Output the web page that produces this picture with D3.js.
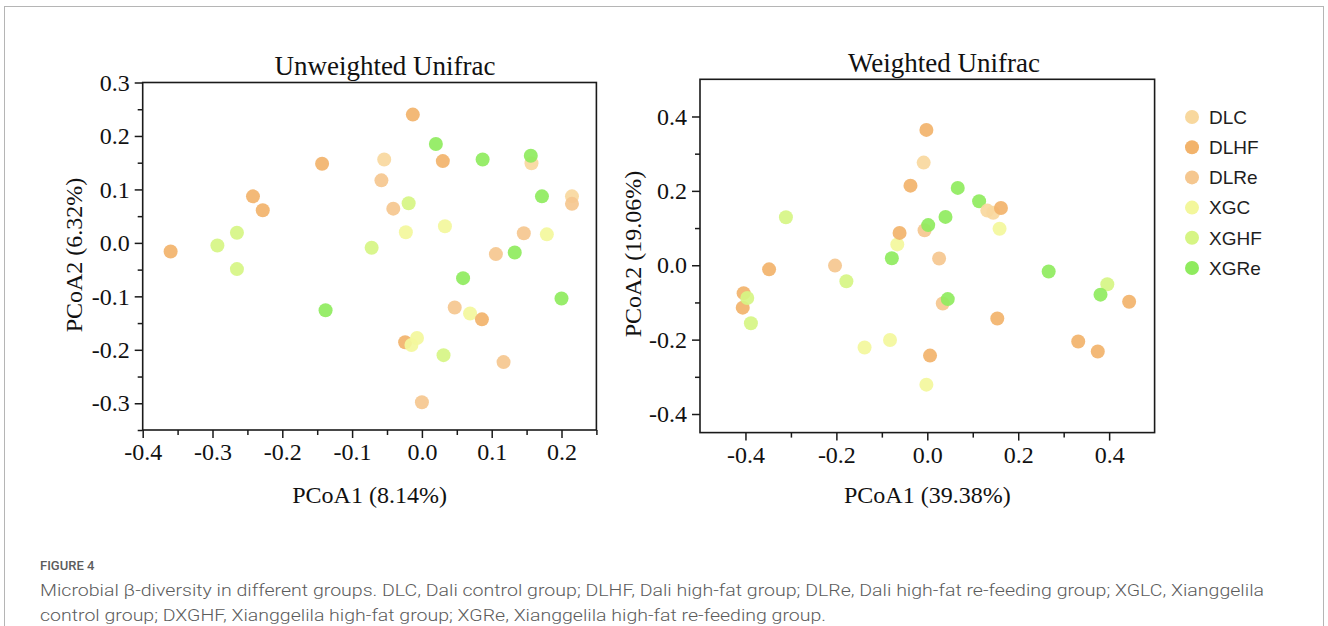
<!DOCTYPE html>
<html>
<head>
<meta charset="utf-8">
<script src="https://cdn.jsdelivr.net/npm/d3@7"></script>
<style>
  body { margin: 0; background: #fff; }
  svg { display: block; }
  .serif { font-family: "Liberation Serif", "Times New Roman", serif; fill: #111; }
  .tick text { font-family: "Liberation Serif", "Times New Roman", serif; font-size: 24px; fill: #111; }
  .tick line { stroke: #1a1a1a; stroke-width: 1.5; }
</style>
</head>
<body>
<div id="chart"></div>
<script>
const W = 1328, H = 626;

const groups = ["DLC", "DLHF", "DLRe", "XGC", "XGHF", "XGRe"];
const groupColors = ["#F8D89E", "#F2B36B", "#F5C78F", "#F3F79C", "#D6F584", "#8FEB5E"];

// Unweighted Unifrac (PCoA1 8.14%, PCoA2 6.32%)
const unwPC1 = [-0.360, -0.293, -0.265, -0.265, -0.242, -0.228, -0.143, -0.138, -0.072, -0.058,
  -0.054, -0.041, -0.019, -0.023, -0.013, 0.020, 0.030, 0.033, 0.059, 0.087,
  0.047, 0.069, 0.086, 0.106, 0.133, 0.146, 0.157, 0.156, 0.172, 0.179,
  0.200, 0.215, 0.215, -0.024, -0.015, -0.007, 0.031, 0.117, 0.000];
const unwPC2 = [-0.016, -0.005, 0.019, -0.049, 0.087, 0.061, 0.148, -0.126, -0.009, 0.117,
  0.156, 0.064, 0.074, 0.020, 0.240, 0.185, 0.153, 0.031, -0.066, 0.156,
  -0.121, -0.132, -0.143, -0.021, -0.018, 0.018, 0.149, 0.163, 0.087, 0.016,
  -0.104, 0.087, 0.073, -0.186, -0.191, -0.178, -0.210, -0.223, -0.298];
const unwGroup = ["DLHF", "XGHF", "XGHF", "XGHF", "DLHF", "DLHF", "DLHF", "XGRe", "XGHF", "DLRe",
  "DLC", "DLRe", "XGHF", "XGC", "DLHF", "XGRe", "DLHF", "XGC", "XGRe", "XGRe",
  "DLRe", "XGC", "DLHF", "DLRe", "XGRe", "DLRe", "DLC", "XGRe", "XGRe", "XGC",
  "XGRe", "DLC", "DLRe", "DLHF", "XGC", "XGC", "XGHF", "DLRe", "DLRe"];

// Weighted Unifrac (PCoA1 39.38%, PCoA2 19.06%)
const wPC1 = [-0.311, -0.348, -0.404, -0.406, -0.396, -0.388, -0.203, -0.178, -0.138, -0.082,
  -0.066, -0.078, -0.061, -0.037, -0.002, -0.008, 0.067, 0.114, 0.132, 0.145,
  0.162, 0.159, 0.040, -0.006, 0.002, 0.026, 0.034, 0.045, 0.154, 0.006,
  -0.002, 0.267, 0.396, 0.381, 0.332, 0.375, 0.444];
const wPC2 = [0.129, -0.011, -0.075, -0.114, -0.088, -0.156, -0.001, -0.043, -0.221, -0.201,
  0.056, 0.019, 0.087, 0.214, 0.364, 0.276, 0.208, 0.172, 0.147, 0.141,
  0.154, 0.098, 0.130, 0.094, 0.108, 0.018, -0.103, -0.091, -0.143, -0.243,
  -0.321, -0.017, -0.051, -0.079, -0.205, -0.232, -0.098];
const wGroup = ["XGHF", "DLHF", "DLHF", "DLHF", "XGHF", "XGHF", "DLRe", "XGHF", "XGC", "XGC",
  "XGC", "XGRe", "DLHF", "DLHF", "DLHF", "DLC", "XGRe", "XGRe", "DLC", "DLC",
  "DLHF", "XGC", "XGRe", "DLRe", "XGRe", "DLRe", "DLRe", "XGRe", "DLHF", "DLHF",
  "XGC", "XGRe", "XGHF", "XGRe", "DLHF", "DLHF", "DLHF"];

// tick values
const unwXTicks = [-0.4, -0.3, -0.2, -0.1, 0.0, 0.1, 0.2];
const unwYTicks = [-0.3, -0.2, -0.1, 0.0, 0.1, 0.2, 0.3];
const wXTicks = [-0.4, -0.2, 0.0, 0.2, 0.4];
const wYTicks = [-0.4, -0.2, 0.0, 0.2, 0.4];

const color = d3.scaleOrdinal().domain(groups).range(groupColors);
const fmt = d => d.toFixed(1).replace("-0.0", "0.0");

const svg = d3.select("#chart").append("svg")
  .attr("width", W).attr("height", H);

// outer figure frame
svg.append("rect")
  .attr("x", 4.5).attr("y", 6.5)
  .attr("width", 1319).attr("height", 700)
  .attr("fill", "none").attr("stroke", "#b5b5b5");

const drawPanel = (cfg) => {
  const x = d3.scaleLinear().domain(cfg.xDomain).range([cfg.left, cfg.right]);
  const y = d3.scaleLinear().domain(cfg.yDomain).range([cfg.bottom, cfg.top]);
  const g = svg.append("g");

  // minor ticks
  g.append("g")
    .attr("transform", `translate(0,${cfg.bottom})`)
    .call(d3.axisBottom(x).tickValues(cfg.xMinor).tickSize(5).tickFormat(""))
    .call(a => a.select(".domain").remove());
  g.append("g")
    .attr("transform", `translate(${cfg.left},0)`)
    .call(d3.axisLeft(y).tickValues(cfg.yMinor).tickSize(5).tickFormat(""))
    .call(a => a.select(".domain").remove());

  // major ticks
  g.append("g")
    .attr("transform", `translate(0,${cfg.bottom})`)
    .call(d3.axisBottom(x).tickValues(cfg.xTicks).tickSize(8).tickPadding(5).tickFormat(fmt))
    .call(a => a.select(".domain").remove());
  g.append("g")
    .attr("transform", `translate(${cfg.left},0)`)
    .call(d3.axisLeft(y).tickValues(cfg.yTicks).tickSize(8).tickPadding(5).tickFormat(fmt))
    .call(a => a.select(".domain").remove());

  // frame
  g.append("rect")
    .attr("x", cfg.left).attr("y", cfg.top)
    .attr("width", cfg.right - cfg.left).attr("height", cfg.bottom - cfg.top)
    .attr("fill", "none").attr("stroke", "#1a1a1a").attr("stroke-width", 1.6);

  // points
  g.append("g").selectAll("circle")
    .data(cfg.pc1.map((v, i) => ({ x: v, y: cfg.pc2[i], group: cfg.group[i] })))
    .join("circle")
      .attr("cx", d => x(d.x))
      .attr("cy", d => y(d.y))
      .attr("r", 7)
      .attr("fill", d => color(d.group))
      .attr("fill-opacity", 0.92);

  // labels
  svg.append("text").attr("class", "serif")
    .attr("x", cfg.titleX).attr("y", cfg.titleY)
    .attr("text-anchor", "middle").attr("font-size", 27)
    .text(cfg.title);
  svg.append("text").attr("class", "serif")
    .attr("x", (cfg.left + cfg.right) / 2).attr("y", 503)
    .attr("text-anchor", "middle").attr("font-size", 24)
    .text(cfg.xLabel);
  svg.append("text").attr("class", "serif")
    .attr("transform", `translate(${cfg.yLabelX},${cfg.yLabelY}) rotate(-90)`)
    .attr("text-anchor", "middle").attr("font-size", 24)
    .text(cfg.yLabel);
};

drawPanel({
  left: 142.7, right: 596.4, top: 82.5, bottom: 430,
  xDomain: [-0.4, 0.25], yDomain: [-0.35, 0.3],
  xTicks: unwXTicks, yTicks: unwYTicks,
  xMinor: d3.range(-0.35, 0.26, 0.1), yMinor: d3.range(-0.35, 0.3, 0.1),
  pc1: unwPC1, pc2: unwPC2, group: unwGroup,
  title: "Unweighted Unifrac", titleX: 385, titleY: 75,
  xLabel: "PCoA1 (8.14%)", yLabel: "PCoA2 (6.32%)", yLabelX: 82, yLabelY: 255
});

drawPanel({
  left: 700, right: 1154.6, top: 79.3, bottom: 432.6,
  xDomain: [-0.5, 0.5], yDomain: [-0.45, 0.5],
  xTicks: wXTicks, yTicks: wYTicks,
  xMinor: d3.range(-0.3, 0.4, 0.2), yMinor: d3.range(-0.3, 0.4, 0.2),
  pc1: wPC1, pc2: wPC2, group: wGroup,
  title: "Weighted Unifrac", titleX: 944, titleY: 72,
  xLabel: "PCoA1 (39.38%)", yLabel: "PCoA2 (19.06%)", yLabelX: 641, yLabelY: 254
});

// legend
const legend = svg.append("g").attr("transform", "translate(1192,117)");
const rows = legend.selectAll("g").data(groups).join("g")
  .attr("transform", (d, i) => `translate(0,${i * 30.2})`);
rows.append("circle").attr("r", 7).attr("fill", d => color(d));
rows.append("text")
  .attr("x", 17).attr("dy", "0.36em")
  .attr("font-family", "Liberation Sans, Arial, sans-serif")
  .attr("font-size", 19).attr("fill", "#1e1e1e")
  .text(d => d);

// caption
svg.append("text")
  .attr("x", 40).attr("y", 570)
  .attr("font-family", "Roboto, 'Noto Sans', sans-serif")
  .attr("font-size", 13).attr("font-weight", 500).attr("fill", "#5c5c5c")
  .text("FIGURE 4");
const captionLines = [
  "Microbial β-diversity in different groups. DLC, Dali control group; DLHF, Dali high-fat group; DLRe, Dali high-fat re-feeding group; XGLC, Xianggelila",
  "control group; DXGHF, Xianggelila high-fat group; XGRe, Xianggelila high-fat re-feeding group."
];
const captionWidths = [1224, 786];
svg.selectAll("text.caption").data(captionLines).join("text")
  .attr("class", "caption")
  .attr("x", 40).attr("y", (d, i) => 596 + i * 25)
  .attr("font-family", "Roboto, 'Noto Sans', sans-serif")
  .attr("font-size", 16.5).attr("font-weight", 300).attr("fill", "#5c5c5c")
  .attr("textLength", (d, i) => captionWidths[i])
  .attr("lengthAdjust", "spacingAndGlyphs")
  .text(d => d);
</script>
</body>
</html>
